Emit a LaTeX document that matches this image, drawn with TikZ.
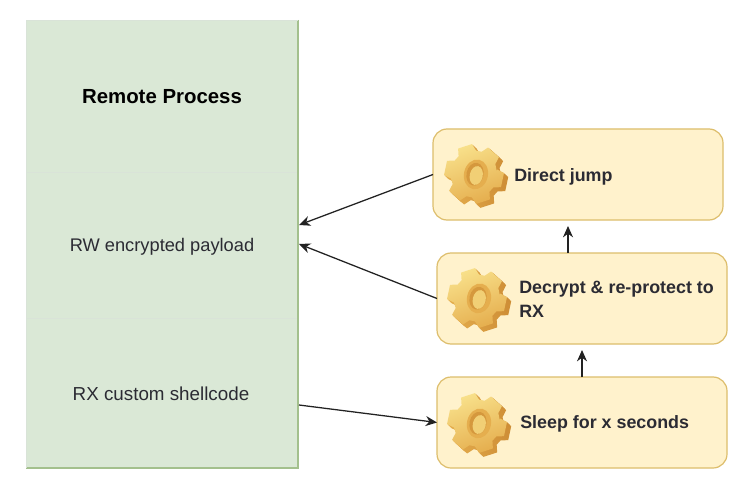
\documentclass[tikz,border=0pt]{standalone}
\usepackage{fontspec}
\setmainfont{Liberation Sans}
\usetikzlibrary{arrows.meta}
\definecolor{panelfill}{HTML}{DAE8D6}
\definecolor{panelline}{HTML}{A3C08D}
\definecolor{panelsep}{HTML}{D9E3D8}
\definecolor{boxfill}{HTML}{FFF2CC}
\definecolor{boxline}{HTML}{DDBE6C}
\definecolor{geardark}{HTML}{CE8E36}
\definecolor{gearmid}{HTML}{E5AE4E}
\definecolor{gearlight}{HTML}{F8E08A}
\definecolor{txt}{HTML}{2B2B33}
\definecolor{arrowc}{HTML}{222222}
\tikzset{
  x=0.75pt,y=-0.75pt,
  panel/.style={draw=none,fill=panelfill,minimum width=204pt,minimum height=336pt,inner sep=0,outer sep=0},
  box/.style={draw=boxline,line width=0.9pt,fill=boxfill,rounded corners=10.5pt,minimum width=217.5pt,minimum height=68.25pt,inner sep=0,outer sep=0},
  plain/.style={font=\fontsize{13.7pt}{16pt}\selectfont,text=txt,inner sep=0},
  strong/.style={font=\bfseries\fontsize{13.4pt}{18pt}\selectfont,text=txt,inner sep=0,align=left,anchor=west},
  link/.style={draw=arrowc,line width=0.95pt,-{Stealth[length=8.5pt,width=7.5pt]}},
  gear/.pic={
    \begin{scope}[rotate=-12]
      \foreach \d in {5,4,3,2,1}{
        \shade[left color=gearmid,right color=geardark,shift={(1.0*\d,0.6*\d)}]
          (-18:23) \foreach \a in {0,60,...,300}{ -- ({\a-23}:23.5) -- ({\a-14}:30) -- ({\a+14}:30) -- ({\a+23}:23.5) } -- cycle;
      }
      \shade[left color=gearlight,right color=gearmid,shading angle=20]
        (-18:23) \foreach \a in {0,60,...,300}{ -- ({\a-23}:23.5) -- ({\a-14}:30) -- ({\a+14}:30) -- ({\a+23}:23.5) } -- cycle;
      \fill[gearmid] (2,0) ellipse [x radius=12,y radius=15];
      \fill[geardark!70!gearmid] (1,0) ellipse [x radius=8.5,y radius=11.5];
      \fill[gearlight!65!gearmid] (2.5,1) ellipse [x radius=6.5,y radius=9.5];
    \end{scope}
  }
}
\begin{document}
\begin{tikzpicture}
\useasboundingbox (0,0) rectangle (741,502);
\fill[white] (0,0) rectangle (741,502);
\node[panel] (panel) at (162,244) {};
\draw[panelsep,line width=0.7pt] (26,172) -- (298,172) (26,318) -- (298,318);
\draw[panelline,line width=1pt] (298,20) -- (298,468) -- (26,468);
\draw[panelsep,line width=0.7pt] (26,468) -- (26,20) -- (298,20);
\node[plain,font=\bfseries\fontsize{15.3pt}{18pt}\selectfont,text=black] (title) at (162,97) {Remote Process};
\node[plain] (rw) at (162,247) {RW encrypted payload};
\node[plain,font=\fontsize{14.1pt}{16pt}\selectfont] (rx) at (161,393.5) {RX custom shellcode};
\node[box] (b1) at (578,174.5) {};
\node[box] (b2) at (582,298.5) {};
\node[box] (b3) at (582,422.5) {};
\pic at (474,174) {gear};
\pic at (477,298) {gear};
\pic at (477,423) {gear};
\node[strong] (t1) at (514,177) {Direct jump};
\node[strong] (t2) at (519,299) {Decrypt \& re-protect to\\RX};
\node[strong] (t3) at (520,424) {Sleep for x seconds};
\coordinate (p1) at (299,225);
\coordinate (p2) at (299,244);
\coordinate (p3) at (299,405);
\coordinate (u2) at (568,253);
\coordinate (u1) at (568,226);
\draw[link] (b1.west) -- (p1);
\draw[link] (b2.west) -- (p2);
\draw[link] (p3) -- (b3.west);
\draw[link] (u2) -- (u1);
\draw[link,shorten >=4.5pt] (b3.north) -- (b2.south);
\end{tikzpicture}
\end{document}
